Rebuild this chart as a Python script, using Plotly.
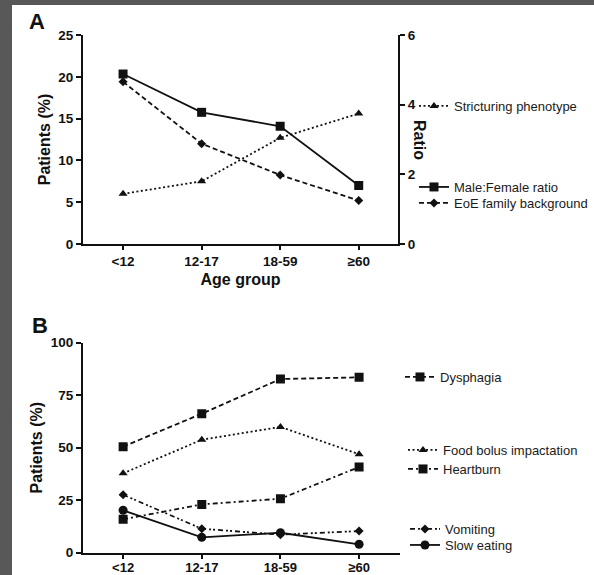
import plotly.graph_objects as go

W, H = 594, 575

age_groups = ["<12", "12-17", "18-59", "≥60"]

# Panel A
stricturing = [6.0, 7.5, 12.7, 15.6]          # % (left axis)
male_female_ratio = [4.88, 3.78, 3.38, 1.68]   # ratio (right axis)
eoe_family = [19.4, 12.0, 8.25, 5.2]           # % (left axis)

# Panel B
dysphagia = [50.5, 66.2, 82.7, 83.5]
food_bolus = [37.8, 53.8, 59.9, 46.9]
heartburn = [15.9, 23.0, 25.7, 40.8]
vomiting = [27.6, 11.4, 8.6, 10.3]
slow_eating = [20.2, 7.3, 9.5, 4.0]

A_left_ticks = [0, 5, 10, 15, 20, 25]
A_right_ticks = [0, 2, 4, 6]
B_ticks = [0, 25, 50, 75, 100]

FONT = "Liberation Sans, Arial, sans-serif"
BLK = "#111111"

def px_x(p):
    return p / W

def px_y(p):
    return 1 - p / H

DOT = "2px,2.5px"
DASH = "5px,3px"
DASHDOT = "5px,3px,2px,3px"
DASHDOTDOT = "5px,3px,2px,2px,2px,3px"

fig = go.Figure()

def add(x, y, name, symbol, dash, xa, ya, legend, msize=8):
    fig.add_trace(go.Scatter(
        x=x, y=y, name=name, mode="lines+markers",
        xaxis=xa, yaxis=ya, legend=legend,
        line=dict(color=BLK, width=1.8, dash=dash),
        marker=dict(symbol=symbol, size=msize, color=BLK),
        hoverinfo="skip",
    ))

add(age_groups, stricturing, "Stricturing phenotype", "triangle-up", DOT, "x", "y", "legend")
add(age_groups, male_female_ratio, "Male:Female ratio", "square", "solid", "x", "y2", "legend2", 9)
add(age_groups, eoe_family, "EoE family background", "diamond", DASH, "x", "y", "legend3", 7)

add(age_groups, dysphagia, "Dysphagia", "square", DASH, "x2", "y3", "legend4", 9)
add(age_groups, food_bolus, "Food bolus impactation", "triangle-up", DOT, "x2", "y3", "legend5")
add(age_groups, heartburn, "Heartburn", "square", DASHDOT, "x2", "y3", "legend6", 9)
add(age_groups, vomiting, "Vomiting", "diamond", DASHDOTDOT, "x2", "y3", "legend7", 7)
add(age_groups, slow_eating, "Slow eating", "circle", "solid", "x2", "y3", "legend8", 9)

tickfont = dict(family=FONT, size=13.5, color=BLK, weight="bold")
titlefont = dict(family=FONT, size=16, color=BLK, weight="bold")

axis_common = dict(
    showline=True, linecolor=BLK, linewidth=2,
    ticks="outside", tickwidth=2, tickcolor=BLK,
    showgrid=False, zeroline=False, automargin=False,
)

def legend_at(x_px, y_px):
    return dict(
        x=px_x(x_px), y=px_y(y_px), xanchor="left", yanchor="middle",
        bgcolor="rgba(0,0,0,0)", borderwidth=0,
        font=dict(family=FONT, size=13, color="#1a1a1a"),
    )

def note(text, x, y, font, angle=0):
    return dict(text=text, x=px_x(x), y=px_y(y), xref="paper", yref="paper",
                xanchor="center", yanchor="middle",
                showarrow=False, textangle=angle, font=font)

fig.update_layout(
    width=W, height=H,
    margin=dict(l=0, r=0, t=0, b=0),
    paper_bgcolor="white", plot_bgcolor="white",
    showlegend=True,
    xaxis=dict(
        domain=[px_x(83), px_x(398)], anchor="y", type="category",
        range=[-0.51, 3.5], ticklen=4, tickfont=tickfont,
        title=dict(text="Age group", font=titlefont, standoff=6),
        **axis_common,
    ),
    yaxis=dict(
        domain=[px_y(244), px_y(35)], anchor="x", range=[0, 25],
        tickvals=A_left_ticks, ticklen=5, tickfont=tickfont,
        title=dict(text="Patients (%)", font=titlefont, standoff=4),
        **axis_common,
    ),
    yaxis2=dict(
        overlaying="y", side="right", anchor="x", range=[0, 6],
        tickvals=A_right_ticks, ticklen=5, tickfont=tickfont,
        **axis_common,
    ),
    xaxis2=dict(
        domain=[px_x(83), px_x(400)], anchor="y3", type="category",
        range=[-0.51, 3.52], ticklen=4, ticklabelstandoff=-2,
        tickfont=dict(family=FONT, size=13, color=BLK, weight="bold"),
        **axis_common,
    ),
    yaxis3=dict(
        domain=[px_y(552.7), px_y(342.7)], anchor="x2", range=[0, 100],
        tickvals=B_ticks, ticklen=5, tickfont=tickfont,
        title=dict(text="Patients (%)", font=titlefont, standoff=4),
        **axis_common,
    ),
    legend=legend_at(414, 106),
    legend2=legend_at(414, 187),
    legend3=legend_at(414, 203),
    legend4=legend_at(400, 377),
    legend5=legend_at(403, 450),
    legend6=legend_at(403, 469),
    legend7=legend_at(405, 529),
    legend8=legend_at(405, 545),
    shapes=[
        dict(type="rect", xref="paper", yref="paper", x0=0, x1=px_x(12), y0=0, y1=1,
             fillcolor="#585858", line=dict(width=0), layer="below"),
        dict(type="rect", xref="paper", yref="paper", x0=0, x1=1, y0=px_y(5), y1=1,
             fillcolor="#585858", line=dict(width=0), layer="below"),
    ],
    annotations=[
        note("A", 37, 22, dict(family=FONT, size=22, color=BLK, weight="bold")),
        note("B", 40, 325, dict(family=FONT, size=22, color=BLK, weight="bold")),
        note("Ratio", 420, 140, titlefont, angle=90),
    ],
)

fig.write_html(
    "out.html",
    config={"displayModeBar": False},
    post_script="document.body.style.margin='0';document.body.style.overflow='hidden';",
)
